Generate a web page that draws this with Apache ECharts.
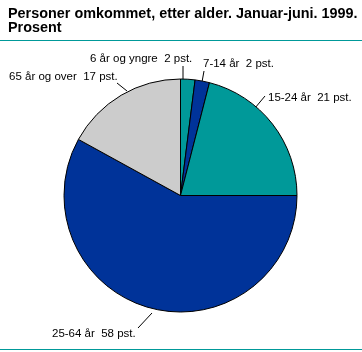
<!DOCTYPE html>
<html>
<head>
<meta charset="utf-8">
<script src="https://cdn.jsdelivr.net/npm/echarts@6/dist/echarts.min.js"></script>
<style>
  html, body { margin: 0; padding: 0; background: #fff; }
  #chart { width: 362px; height: 352px; }
</style>
</head>
<body>
<div id="chart"></div>
<script>
var categories = ['6 år og yngre', '7-14 år', '15-24 år', '25-64 år', '65 år og over'];
var values = [2, 2, 21, 58, 17];
var colors = ['#009999', '#003399', '#009999', '#003399', '#cccccc'];

// label anchor (left, middle) and leader line for each slice
var labelPos = [[90, 59], [203, 64], [268, 98], [52, 334], [9, 77]];
var linePts = [
    [[183, 80], [183, 66]],
    [[202, 82], [204, 71]],
    [[255, 108], [265, 96]],
    [[152, 313], [138, 328]],
    [[127, 91], [117, 83]]
];

var chart = echarts.init(document.getElementById('chart'));

var data = categories.map(function (name, i) {
    return { name: name, value: values[i], itemStyle: { color: colors[i] } };
});

var option = {
    animation: false,
    title: {
        text: 'Personer omkommet, etter alder. Januar-juni. 1999.\nProsent',
        left: 3,
        top: 2,
        textStyle: {
            fontFamily: 'Liberation Sans',
            fontSize: 14.4,
            fontWeight: 'bold',
            color: '#000',
            lineHeight: 14
        }
    },
    graphic: [
        { type: 'line', shape: { x1: 0, y1: 40.5, x2: 362, y2: 40.5 }, style: { stroke: '#009999', lineWidth: 1 } },
        { type: 'line', shape: { x1: 0, y1: 349.5, x2: 362, y2: 349.5 }, style: { stroke: '#009999', lineWidth: 1 } }
    ],
    series: [{
        type: 'pie',
        center: [180.5, 195.5],
        radius: 116.5,
        startAngle: 90,
        clockwise: true,
        avoidLabelOverlap: false,
        data: data,
        itemStyle: { borderColor: '#000', borderWidth: 1 },
        label: {
            show: true,
            position: 'outside',
            formatter: '{b}  {c} pst.',
            fontFamily: 'Liberation Sans',
            fontSize: 11.5,
            color: '#000'
        },
        labelLine: {
            show: true,
            lineStyle: { color: '#000', width: 1 }
        },
        labelLayout: function (p) {
            var i = p.dataIndex;
            return {
                x: labelPos[i][0],
                y: labelPos[i][1],
                align: 'left',
                verticalAlign: 'middle',
                labelLinePoints: linePts[i]
            };
        }
    }]
};

chart.setOption(option);
</script>
</body>
</html>
